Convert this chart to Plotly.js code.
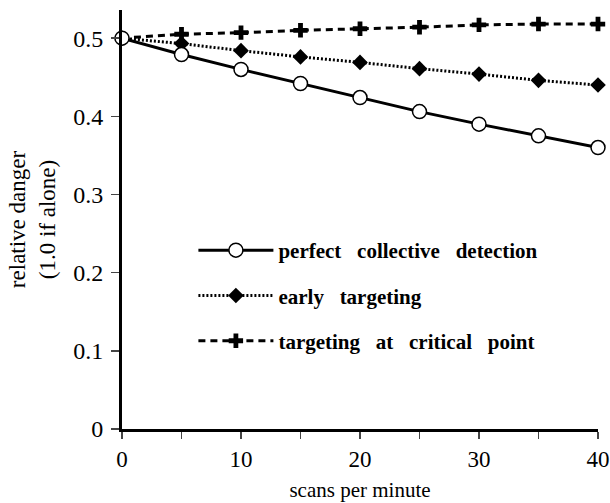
<!DOCTYPE html>
<html><head><meta charset="utf-8">
<script src="https://cdn.plot.ly/plotly-3.0.1.min.js"></script>
<style>html,body{margin:0;padding:0;background:#fff}</style>
</head><body>
<div id="chart" style="width:610px;height:503px"></div>
<script>
const scans = [0, 5, 10, 15, 20, 25, 30, 35, 40];
const perfectDetection = [0.500, 0.479, 0.460, 0.442, 0.424, 0.406, 0.390, 0.375, 0.360];
const earlyTargeting = [0.500, 0.493, 0.484, 0.476, 0.469, 0.461, 0.454, 0.446, 0.440];
const criticalTargeting = [0.500, 0.505, 0.507, 0.510, 0.512, 0.514, 0.517, 0.518, 0.518];
const seriesNames = ["perfect\u00a0\u00a0 collective\u00a0\u00a0 detection", "early\u00a0\u00a0 targeting", "targeting\u00a0\u00a0 at\u00a0\u00a0 critical\u00a0\u00a0 point"];
const xTickVals = [0, 5, 10, 15, 20, 25, 30, 35, 40];
const xTickText = ["0", "", "10", "", "20", "", "30", "", "40"];
const yTickVals = [0, 0.1, 0.2, 0.3, 0.4, 0.5];
const yTickText = ["0", "0.1", "0.2", "0.3", "0.4", "0.5"];

const traces = [
  {x: scans, y: criticalTargeting, name: seriesNames[2], mode: "lines+markers", cliponaxis: false,
   legendgroup: "c", legendrank: 3,
   line: {color: "#000", width: 3, dash: "7px,5px"},
   marker: {symbol: "cross", size: 12, color: "#000", line: {width: 0}}},
  {x: scans, y: earlyTargeting, name: seriesNames[1], mode: "lines+markers", cliponaxis: false,
   legendgroup: "b", legendrank: 2,
   line: {color: "#000", width: 3, dash: "2px,2px"},
   marker: {symbol: "diamond", size: 12, color: "#000", line: {width: 0}}},
  {x: scans, y: perfectDetection, name: seriesNames[0], mode: "lines+markers", cliponaxis: false,
   legendgroup: "a", legendrank: 1,
   line: {color: "#000", width: 3},
   marker: {symbol: "circle", size: 14, color: "#fff", line: {color: "#000", width: 1.5}}}
];

const layout = {
  width: 610, height: 503,
  margin: {l: 122, r: 12, t: 10, b: 74},
  paper_bgcolor: "#fff", plot_bgcolor: "#fff",
  font: {family: "Liberation Serif, Times New Roman, serif", color: "#000", size: 22},
  showlegend: true,
  legend: {x: 0.15, y: 0.475, xanchor: "left", yanchor: "top", bgcolor: "rgba(0,0,0,0)",
           traceorder: "grouped", tracegroupgap: 15, itemwidth: 75,
           font: {family: "Liberation Serif, Times New Roman, serif", size: 21, weight: "bold", color: "#000"}},
  xaxis: {range: [0, 40], tickvals: xTickVals, ticktext: xTickText, ticks: "outside", ticklen: 7, tickwidth: 1.5,
          showline: true, linewidth: 3, linecolor: "#000", showgrid: false, zeroline: false,
          tickfont: {size: 23},
          title: {text: "scans per minute", font: {size: 21}, standoff: 12}},
  yaxis: {range: [0, 0.536], tickvals: yTickVals, ticktext: yTickText, ticks: "outside", ticklen: 8, tickwidth: 1.5,
          showline: true, linewidth: 3, linecolor: "#000", showgrid: false, zeroline: false,
          tickfont: {size: 24}, ticklabelstandoff: 3,
          title: {text: "relative danger<br>(1.0 if alone)", font: {size: 23}, standoff: 12}}
};
Plotly.newPlot("chart", traces, layout, {displayModeBar: false, staticPlot: true});
</script>
</body></html>
